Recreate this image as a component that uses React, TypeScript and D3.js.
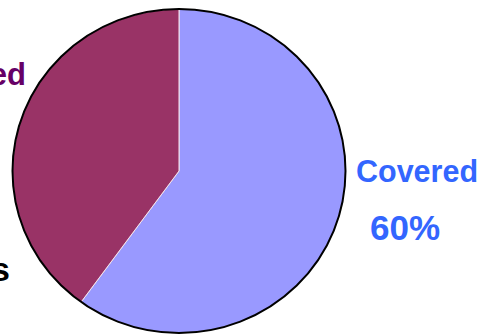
import React from "react";
import * as d3 from "d3";

const categories = ["Covered", "Uncovered"];
const shares = [60, 40];
const sliceColors = ["#9999FF", "#993366"];

const W = 485;
const H = 334;

export default function App() {
  const cx = 179;
  const cy = 171;
  const rx = 166.5;
  const ry = 162;

  const pie = d3
    .pie<number>()
    .sort(null)
    .value((d) => d);
  const arcs = pie(shares);
  // unit-radius arcs, stretched into the ellipse by the group transform
  const arc = d3.arc<d3.PieArcDatum<number>>().innerRadius(0).outerRadius(1);

  return (
    <svg
      width={W}
      height={H}
      style={{ position: "fixed", left: 0, top: 0 }}
      fontFamily="'Liberation Sans', Arial, sans-serif"
      fontWeight="bold"
    >
      <rect width={W} height={H} fill="#ffffff" />
      <g transform={`translate(${cx},${cy}) scale(${rx},${ry})`}>
        {arcs.map((a, i) => (
          <path
            key={categories[i]}
            d={arc(a) ?? ""}
            fill={sliceColors[i]}
            stroke="#f4e6ee"
            strokeWidth={1}
            vectorEffect="non-scaling-stroke"
          />
        ))}
        <ellipse
          cx={0}
          cy={0}
          rx={1}
          ry={1}
          fill="none"
          stroke="#000000"
          strokeWidth={2}
          vectorEffect="non-scaling-stroke"
        />
      </g>
      <text x={356} y={182} fontSize={30.5} fill="#3366FF">
        {categories[0]}
      </text>
      <text x={370} y={240} fontSize={35} fill="#3366FF">
        {`${shares[0]}%`}
      </text>
      <text x={26} y={85} fontSize={31} fill="#660066" textAnchor="end">
        {categories[1]}
      </text>
      <text x={10} y={281} fontSize={34} fill="#000000" textAnchor="end">
        Claims
      </text>
    </svg>
  );
}
